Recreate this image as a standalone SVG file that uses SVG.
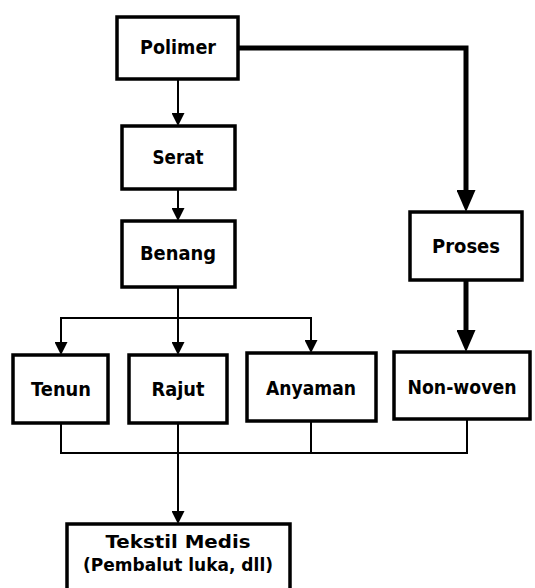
<svg xmlns="http://www.w3.org/2000/svg" width="535" height="588" viewBox="0 0 535 588">
<style>
.box{fill:#fff;stroke:#000;stroke-width:3.5}
.lbl{font-family:"DejaVu Sans","Liberation Sans",sans-serif;font-weight:bold;font-size:19px;fill:#000;text-anchor:middle}
.sm{font-size:18px}
.thin{fill:none;stroke:#000;stroke-width:2}
.thick{fill:none;stroke:#000;stroke-width:5}
</style>
<defs>
<marker id="at" markerUnits="userSpaceOnUse" markerWidth="14" markerHeight="13" refX="7" refY="6.5" orient="auto">
<path d="M0,0 L13,6.5 L0,13 z" fill="#000"/>
</marker>
<marker id="ak" markerUnits="userSpaceOnUse" markerWidth="23" markerHeight="19" refX="12" refY="9.5" orient="auto">
<path d="M0,0 L22,9.5 L0,19 z" fill="#000"/>
</marker>
</defs>
<rect width="535" height="588" fill="#fff"/>
<g id="connectors">
<path class="thin" d="M178,79 V120" marker-end="url(#at)"/>
<path class="thin" d="M178,189 V215" marker-end="url(#at)"/>
<path class="thin" d="M178,287 V349" marker-end="url(#at)"/>
<path class="thin" d="M61,349 V318 H311 V347" marker-end="url(#at)"/>
<path class="thin" d="M61,318 V349" marker-end="url(#at)"/>
<path class="thin" d="M61,423 V453 H467 V419"/>
<path class="thin" d="M311,421 V453"/>
<path class="thin" d="M178,423 V518" marker-end="url(#at)"/>
<path class="thick" d="M238,48 H466 V202" marker-end="url(#ak)"/>
<path class="thick" d="M466,280 V342" marker-end="url(#ak)"/>
</g>
<g id="polimer"><rect class="box" x="117" y="17" width="121" height="62"/><text class="lbl" x="178" y="54" textLength="76" lengthAdjust="spacingAndGlyphs">Polimer</text></g>
<g id="serat"><rect class="box" x="122" y="126" width="113" height="63"/><text class="lbl" x="178" y="164" textLength="51" lengthAdjust="spacingAndGlyphs">Serat</text></g>
<g id="benang"><rect class="box" x="122" y="221" width="113" height="66"/><text class="lbl" x="178" y="260" textLength="76" lengthAdjust="spacingAndGlyphs">Benang</text></g>
<g id="proses"><rect class="box" x="410" y="212" width="112" height="68"/><text class="lbl" x="466" y="253" textLength="68" lengthAdjust="spacingAndGlyphs">Proses</text></g>
<g id="tenun"><rect class="box" x="13" y="355" width="95" height="68"/><text class="lbl" x="61" y="396" textLength="60" lengthAdjust="spacingAndGlyphs">Tenun</text></g>
<g id="rajut"><rect class="box" x="129" y="355" width="98" height="68"/><text class="lbl" x="178" y="396" textLength="53" lengthAdjust="spacingAndGlyphs">Rajut</text></g>
<g id="anyaman"><rect class="box" x="247" y="353" width="129" height="68"/><text class="lbl" x="311" y="395" textLength="90" lengthAdjust="spacingAndGlyphs">Anyaman</text></g>
<g id="nonwoven"><rect class="box" x="394" y="352" width="136" height="67"/><text class="lbl" x="462" y="394" textLength="109" lengthAdjust="spacingAndGlyphs">Non-woven</text></g>
<g id="tekstil"><rect class="box" x="67" y="524" width="223" height="80"/><text class="lbl sm" x="178" y="548" textLength="145" lengthAdjust="spacingAndGlyphs">Tekstil Medis</text><text class="lbl sm" x="178" y="571" textLength="190" lengthAdjust="spacingAndGlyphs">(Pembalut luka, dll)</text></g>
</svg>
